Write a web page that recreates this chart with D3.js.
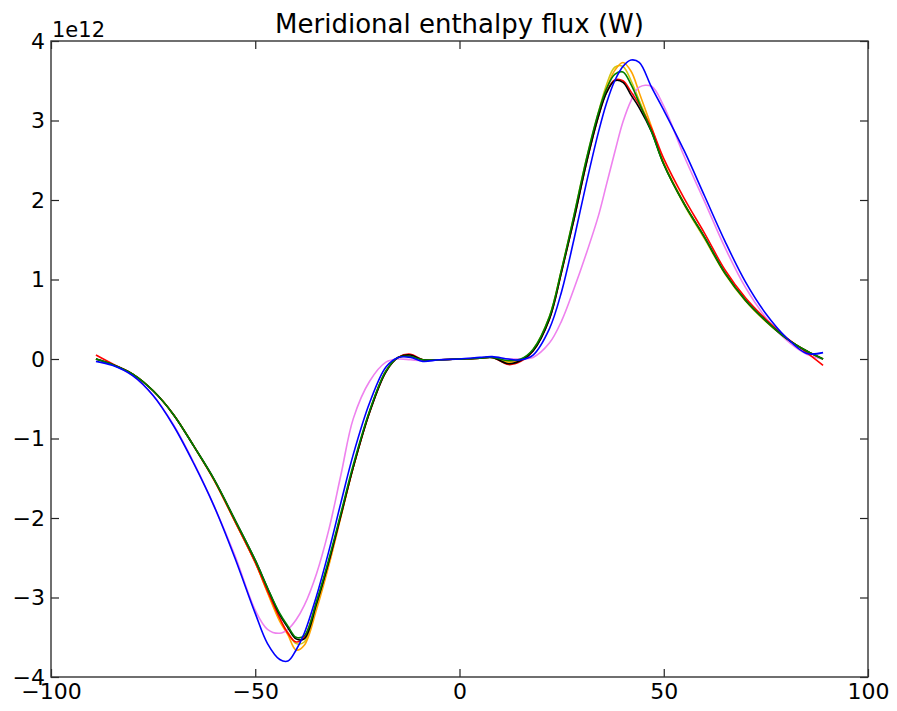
<!DOCTYPE html>
<html>
<head>
<meta charset="utf-8">
<script src="https://cdn.jsdelivr.net/npm/d3@7"></script>
<style>
  body { margin: 0; background: #fff; }
  svg { display: block; font-family: "DejaVu Sans", sans-serif; }
</style>
</head>
<body>
<svg id="chart" width="897" height="711"></svg>
<script>
// latitude grid (degrees), values in units of 1e12 W
var lats = [-89,-85,-80,-75,-70,-65,-60,-55,-50,-47,-44,-42,-40,-38,-35,-32,-29,-26,-22,-18,-15,-12,-9,-5,0,5,8,12,15,18,22,25,28,31,34,36,38,40,42,44,47,50,55,60,65,70,75,80,85,89];

var fluxBlack  = [0.00,-0.07,-0.19,-0.40,-0.70,-1.10,-1.52,-2.02,-2.53,-2.88,-3.22,-3.38,-3.52,-3.52,-3.08,-2.55,-1.96,-1.36,-0.67,-0.16,0.02,0.05,-0.01,-0.01,0.00,0.01,0.02,-0.06,-0.02,0.10,0.50,1.10,1.75,2.45,3.05,3.35,3.50,3.48,3.32,3.16,2.86,2.45,1.95,1.53,1.08,0.74,0.48,0.26,0.10,0.00];
var fluxGreen  = [0.00,-0.07,-0.19,-0.40,-0.70,-1.10,-1.52,-2.02,-2.53,-2.88,-3.20,-3.36,-3.50,-3.48,-3.05,-2.52,-1.93,-1.33,-0.65,-0.15,0.02,0.03,-0.01,-0.01,0.00,0.01,0.02,-0.02,0.00,0.12,0.53,1.13,1.80,2.50,3.10,3.40,3.58,3.61,3.45,3.22,2.86,2.45,1.95,1.53,1.08,0.74,0.48,0.26,0.10,0.00];
var fluxRed    = [0.05,-0.06,-0.19,-0.40,-0.70,-1.10,-1.53,-2.04,-2.56,-2.92,-3.26,-3.45,-3.56,-3.50,-3.06,-2.55,-1.96,-1.36,-0.67,-0.16,0.02,0.06,-0.01,-0.01,0.00,0.01,0.02,-0.07,-0.03,0.10,0.50,1.10,1.75,2.45,3.05,3.36,3.51,3.50,3.36,3.20,2.90,2.52,2.02,1.58,1.12,0.77,0.50,0.27,0.08,-0.08];
var fluxOrange = [0.00,-0.07,-0.19,-0.40,-0.70,-1.10,-1.53,-2.04,-2.56,-2.94,-3.30,-3.47,-3.66,-3.60,-3.15,-2.60,-1.98,-1.36,-0.66,-0.15,0.02,0.04,-0.01,-0.01,0.00,0.01,0.02,-0.04,-0.01,0.11,0.52,1.12,1.78,2.48,3.08,3.40,3.63,3.73,3.62,3.35,2.92,2.47,1.96,1.53,1.08,0.74,0.48,0.26,0.10,0.00];
var fluxYellow = [0.00,-0.07,-0.19,-0.40,-0.70,-1.10,-1.53,-2.04,-2.56,-2.93,-3.28,-3.44,-3.58,-3.56,-3.10,-2.57,-1.97,-1.36,-0.66,-0.15,0.02,0.04,-0.01,-0.01,0.00,0.01,0.02,-0.04,-0.01,0.12,0.53,1.13,1.80,2.50,3.10,3.45,3.67,3.68,3.50,3.25,2.88,2.45,1.94,1.51,1.07,0.73,0.47,0.26,0.10,0.00];
var fluxBlue   = [-0.03,-0.08,-0.21,-0.46,-0.84,-1.32,-1.86,-2.50,-3.20,-3.58,-3.78,-3.80,-3.66,-3.45,-2.98,-2.42,-1.80,-1.20,-0.55,-0.10,0.02,0.02,-0.03,-0.01,0.00,0.02,0.03,0.00,-0.01,0.05,0.38,0.85,1.50,2.20,2.85,3.22,3.50,3.68,3.76,3.73,3.42,3.13,2.62,2.05,1.48,0.97,0.57,0.27,0.07,0.08];
var fluxViolet = [0.00,-0.07,-0.21,-0.46,-0.83,-1.31,-1.86,-2.47,-3.16,-3.40,-3.45,-3.40,-3.28,-3.10,-2.70,-2.15,-1.45,-0.75,-0.28,-0.04,0.00,-0.01,-0.02,-0.01,0.00,0.01,0.02,0.00,0.00,0.02,0.20,0.48,0.88,1.32,1.80,2.20,2.60,2.98,3.25,3.42,3.43,3.18,2.55,1.98,1.40,0.90,0.52,0.24,0.06,0.00];

var seriesNames  = ["yellow", "orange", "violet", "red", "black", "green", "blue"];
var seriesValues = [fluxYellow, fluxOrange, fluxViolet, fluxRed, fluxBlack, fluxGreen, fluxBlue];
var seriesColors = ["#d2c814", "#ffa500", "#ee82ee", "#ff0000", "#000000", "#008000", "#0000ff"];

var xTicks = [-100, -50, 0, 50, 100];
var yTicks = [-4, -3, -2, -1, 0, 1, 2, 3, 4];
var titleText = "Meridional enthalpy flux (W)";
var offsetText = "1e12";

var margin = {top: 41, right: 29, bottom: 34, left: 51},
	width = 897 - margin.left - margin.right,
	height = 711 - margin.top - margin.bottom;

var svg = d3.select("#chart");
var g = svg.append("g").attr("transform", "translate(" + margin.left + "," + margin.top + ")");

var x = d3.scaleLinear().domain([-100, 100]).range([0, width]);
var y = d3.scaleLinear().domain([-4, 4]).range([height, 0]);

// lines
var line = d3.line()
	.x(function(d) { return x(d[0]); })
	.y(function(d) { return y(d[1]); })
	.curve(d3.curveCatmullRom.alpha(0.5));

seriesValues.forEach(function(vals, i) {
	g.append("path")
		.datum(lats.map(function(l, j) { return [l, vals[j]]; }))
		.attr("fill", "none")
		.attr("stroke", seriesColors[i])
		.attr("stroke-width", 1.6)
		.attr("stroke-linejoin", "round")
		.attr("d", line);
});

// axes (ticks pointing inward on all four sides)
var fmt = d3.format("d");
var tickLen = 8;
var axB = g.append("g").attr("transform", "translate(0," + height + ")")
	.call(d3.axisBottom(x).tickValues(xTicks).tickSizeInner(-tickLen).tickSizeOuter(0).tickPadding(6).tickFormat(fmt));
var axT = g.append("g")
	.call(d3.axisTop(x).tickValues(xTicks).tickSizeInner(-tickLen).tickSizeOuter(0).tickFormat(""));
var axL = g.append("g")
	.call(d3.axisLeft(y).tickValues(yTicks).tickSizeInner(-tickLen).tickSizeOuter(0).tickPadding(6).tickFormat(fmt));
var axR = g.append("g").attr("transform", "translate(" + width + ",0)")
	.call(d3.axisRight(y).tickValues(yTicks).tickSizeInner(-tickLen).tickSizeOuter(0).tickFormat(""));

[axB, axT, axL, axR].forEach(function(a) {
	a.select(".domain").remove();
	a.selectAll(".tick line").attr("stroke", "#222").attr("stroke-width", 1.2);
	a.selectAll(".tick text").attr("fill", "#000").style("font-size", "22px").style("font-family", "DejaVu Sans, sans-serif");
});
axB.selectAll(".tick text").attr("dy", "0.71em");

// frame
g.append("rect")
	.attr("width", width).attr("height", height)
	.attr("fill", "none").attr("stroke", "#333").attr("stroke-width", 1.4);

// title and offset text
svg.append("text")
	.attr("x", margin.left + width / 2).attr("y", 33)
	.attr("text-anchor", "middle")
	.style("font-size", "26px")
	.text(titleText);

svg.append("text")
	.attr("x", margin.left + 1).attr("y", 37)
	.style("font-size", "21px")
	.text(offsetText);
</script>
</body>
</html>
